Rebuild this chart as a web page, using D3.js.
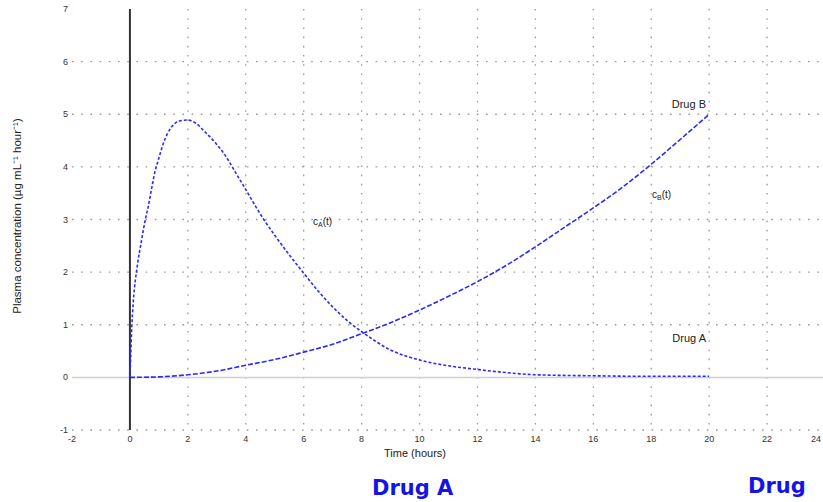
<!DOCTYPE html>
<html><head><meta charset="utf-8">
<script src="https://cdn.jsdelivr.net/npm/d3@7"></script>
<style>body{margin:0;background:#fff}svg{display:block}</style>
</head><body>
<script>
// Data
const timeA = [0,0.03,0.06,0.12,0.25,0.4,0.54,0.63,0.75,0.86,0.98,1.15,1.44,1.7,2.0,2.3,2.6,2.95,3.3,3.65,4.0,4.35,4.6,5,5.5,6,6.5,7,7.5,8,9,10,11,12,13,14,16,18,20];
const drugA = [0,0.45,0.9,1.46,2.1,2.6,3.02,3.24,3.59,3.9,4.13,4.44,4.76,4.87,4.89,4.82,4.66,4.46,4.21,3.89,3.57,3.24,3.02,2.7,2.33,1.98,1.64,1.34,1.08,0.87,0.52,0.33,0.22,0.15,0.09,0.05,0.03,0.02,0.02];
const timeB = [0,1,2,3,4,5,6,7,8,9,10,11,12,13,14,15,16,17,18,19,20];
const drugB = [0,0.01,0.05,0.12,0.23,0.34,0.48,0.63,0.83,1.04,1.28,1.54,1.82,2.13,2.48,2.85,3.22,3.61,4.05,4.52,5.0];
const xTicks = [-2,0,2,4,6,8,10,12,14,16,18,20,22,24];
const yTicks = [-1,0,1,2,3,4,5,6,7];

const W = 823, H = 502;
const svg = d3.select("body").append("svg").attr("width", W).attr("height", H);
const x = d3.scaleLinear().domain([-2, 24]).range([72, 825]);
const y = d3.scaleLinear().domain([-1, 7]).range([430, 9]);
const f = "Liberation Sans, Arial, sans-serif";

// grid
const grid = svg.append("g");
grid.selectAll("line.h").data(yTicks.filter(d => d !== 0 && d !== 7)).join("line")
  .attr("x1", x(-2)).attr("x2", x(24)).attr("y1", d => y(d)).attr("y2", d => y(d))
  .attr("stroke", "#9a9a9a").attr("stroke-width", 1.3).attr("stroke-dasharray", "1.6,7.6");
grid.selectAll("line.v").data(xTicks.filter(d => d !== 0 && d !== -2 && d !== 24)).join("line")
  .attr("x1", d => x(d)).attr("x2", d => x(d)).attr("y1", y(7)).attr("y2", y(-1))
  .attr("stroke", "#9a9a9a").attr("stroke-width", 1.3).attr("stroke-dasharray", "1.6,7.6");

// zero line
svg.append("line").attr("x1", x(-2)).attr("x2", x(24)).attr("y1", y(0)).attr("y2", y(0))
  .attr("stroke", "#d0d0d0").attr("stroke-width", 1.5);
// vertical axis line at t=0
svg.append("line").attr("x1", x(0)).attr("x2", x(0)).attr("y1", y(7)).attr("y2", y(-1))
  .attr("stroke", "#333").attr("stroke-width", 2);

// tick labels
svg.append("g").selectAll("text").data(xTicks).join("text")
  .attr("x", d => Math.min(x(d), 821)).attr("y", 442)
  .attr("text-anchor", d => x(d) > 815 ? "end" : "middle")
  .attr("font-family", f).attr("font-size", 9).attr("fill", "#333")
  .text(d => d);
svg.append("g").selectAll("text").data(yTicks).join("text")
  .attr("x", 68).attr("y", d => y(d) + 3).attr("text-anchor", "end")
  .attr("font-family", f).attr("font-size", 9).attr("fill", "#333")
  .text(d => d);

// curves
const lineA = d3.line().x((d, i) => x(timeA[i])).y(d => y(d)).curve(d3.curveMonotoneX);
const lineB = d3.line().x((d, i) => x(timeB[i])).y(d => y(d)).curve(d3.curveMonotoneX);
svg.append("path").attr("d", lineA(drugA)).attr("fill", "none").attr("stroke", "#2a2aff")
  .attr("stroke-width", 1.6).attr("stroke-dasharray", "3,2");
svg.append("path").attr("d", lineB(drugB)).attr("fill", "none").attr("stroke", "#2a2aff")
  .attr("stroke-width", 1.6).attr("stroke-dasharray", "5,2");

// annotations
svg.append("text").attr("x", 706).attr("y", 108).attr("text-anchor", "end").attr("font-family", f)
  .attr("font-size", 11).attr("fill", "#222").text("Drug B");
svg.append("text").attr("x", 706).attr("y", 342).attr("text-anchor", "end").attr("font-family", f)
  .attr("font-size", 11).attr("fill", "#222").text("Drug A");
const cA = svg.append("text").attr("x", 313).attr("y", 225).attr("font-family", f).attr("font-size", 10).attr("fill", "#222");
cA.append("tspan").text("c");
cA.append("tspan").attr("font-size", 7).attr("dy", 2).text("A");
cA.append("tspan").attr("dy", -2).text("(t)");
const cB = svg.append("text").attr("x", 652).attr("y", 198).attr("font-family", f).attr("font-size", 10).attr("fill", "#222");
cB.append("tspan").text("c");
cB.append("tspan").attr("font-size", 7).attr("dy", 2).text("B");
cB.append("tspan").attr("dy", -2).text("(t)");

// axis titles
svg.append("text").attr("x", 415).attr("y", 457).attr("text-anchor", "middle").attr("font-family", f)
  .attr("font-size", 11).attr("fill", "#222").text("Time (hours)");
svg.append("text").attr("transform", "translate(21,216) rotate(-90)").attr("text-anchor", "middle")
  .attr("font-family", f).attr("font-size", 11.5).attr("fill", "#222")
  .text("Plasma concentration (\u00b5g mL\u207b\u00b9 hour\u207b\u00b9)");

// handwritten notes
svg.append("text").attr("x", 372).attr("y", 495).attr("font-family", "DejaVu Sans, sans-serif")
  .attr("font-weight", "bold").attr("font-size", 21).attr("fill", "#1414e6").text("Drug A");
svg.append("text").attr("x", 748).attr("y", 493).attr("font-family", "DejaVu Sans, sans-serif")
  .attr("font-weight", "bold").attr("font-size", 21).attr("fill", "#1414e6").text("Drug");
</script>
</body></html>
